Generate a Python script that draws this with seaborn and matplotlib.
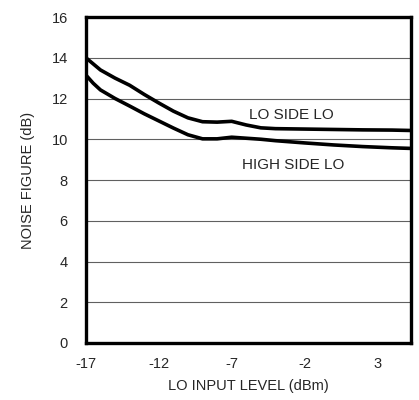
import matplotlib
matplotlib.use("Agg")
import matplotlib.pyplot as plt
import seaborn as sns
import pandas as pd

# LO input level (dBm) vs noise figure (dB)
lo_level = [-17, -16.5, -16, -15, -14, -13, -12, -11, -10, -9, -8, -7, -6, -5, -4, -2, 0, 2, 4, 5.3]
lo_side_nf = [14.0, 13.7, 13.4, 13.0, 12.65, 12.2, 11.78, 11.38, 11.05, 10.86, 10.84, 10.88, 10.7, 10.56,
              10.52, 10.5, 10.48, 10.46, 10.45, 10.43]
high_side_nf = [13.15, 12.75, 12.42, 12.0, 11.63, 11.25, 10.9, 10.55, 10.22, 10.02, 10.02, 10.1, 10.05, 10.0,
                9.93, 9.82, 9.72, 9.64, 9.58, 9.55]

x_ticks = [-17, -12, -7, -2, 3]
y_ticks = [0, 2, 4, 6, 8, 10, 12, 14, 16]

sns.set_style("white")
plt.rcParams['font.family'] = ['Liberation Sans', 'DejaVu Sans']
plt.rcParams['axes.unicode_minus'] = False

df = pd.concat([
    pd.DataFrame({"x": lo_level, "nf": lo_side_nf, "curve": "LO SIDE LO"}),
    pd.DataFrame({"x": lo_level, "nf": high_side_nf, "curve": "HIGH SIDE LO"}),
])

fig = plt.figure(figsize=(4.19, 4.0), dpi=100)
ax = fig.add_axes([0.205, 0.1425, 0.776, 0.815])

for y in y_ticks[1:-1]:
    ax.axhline(y, color="#606060", lw=0.8, zorder=1)

sns.lineplot(data=df, x="x", y="nf", units="curve", estimator=None,
             color="black", lw=2.6, ax=ax, zorder=3)

ax.set_xlim(-17, 5.3)
ax.set_ylim(0, 16)
ax.set_xticks(x_ticks)
ax.set_yticks(y_ticks)
ax.tick_params(axis="x", length=0, labelsize=10.5, pad=10)
ax.tick_params(axis="y", length=0, labelsize=10.5, pad=13)
ax.set_xlabel("LO INPUT LEVEL (dBm)", fontsize=10.5, labelpad=6)
ax.set_ylabel("NOISE FIGURE (dB)", fontsize=10.5, labelpad=12)

for s in ax.spines.values():
    s.set_color("black")
    s.set_linewidth(2.4)

ax.text(-2.9, 11.2, "LO SIDE LO", ha="center", va="center", fontsize=11)
ax.text(-2.8, 8.75, "HIGH SIDE LO", ha="center", va="center", fontsize=11)

fig.savefig("out.png", dpi=100)
